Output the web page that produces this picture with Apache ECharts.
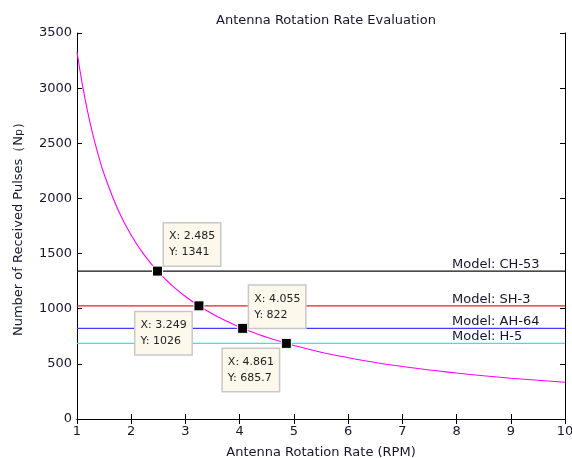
<!DOCTYPE html>
<html><head><meta charset="utf-8">
<script src="https://cdn.jsdelivr.net/npm/echarts@6/dist/echarts.min.js"></script>
<style>html,body{margin:0;padding:0;background:#fff}#c{width:572px;height:458px}</style>
</head><body><div id="c"></div>
<script>
// Curve: number of received pulses vs. rotation rate
const rpm = [1, 1.1, 1.2, 1.3, 1.4, 1.5, 1.75, 2, 2.25, 2.5, 2.75, 3, 3.25, 3.5, 3.75, 4, 4.25, 4.5, 4.75, 5, 5.5, 6, 6.5, 7, 7.5, 8, 8.5, 9, 9.5, 10];
const pulses = [3330, 3030, 2778, 2564, 2381, 2222, 1905, 1667, 1481, 1333, 1212, 1111, 1026, 952, 889, 833, 784, 741, 702, 667, 606, 556, 513, 476, 444, 417, 392, 370, 351, 333];
// Helicopter model reference levels
const models = ['Model: CH-53', 'Model: SH-3', 'Model: AH-64', 'Model: H-5'];
const levels = [1341, 1026, 822, 685.7];
const levelColors = ['#111111', '#ee1c1c', '#3c3cff', '#22eeee'];
// Data tips
const tipX = [2.485, 3.249, 4.055, 4.861];
const tipY = [1341, 1026, 822, 685.7];
const tipOffsets = [[12, -42], [-58, 12], [12, -37], [-58, 11]];
const xRange = [1, 10];

const FONT = 'DejaVu Sans, Verdana, sans-serif';
const TXT = '#161630';
const chart = echarts.init(document.getElementById('c'), null, {renderer: 'canvas'});

const series = [];
series.push({
  type: 'line', name: 'curve', data: rpm.map((x, i) => [x, pulses[i]]),
  smooth: true, symbol: 'none', lineStyle: {color: '#ff00ff', width: 1.1}, z: 3, silent: true
});
models.forEach((m, i) => {
  series.push({
    type: 'line', name: m, data: [[xRange[0], levels[i]], {value: [xRange[1], levels[i]], label: {
      show: true, formatter: m, position: [-113, 0], align: 'left', verticalAlign: 'bottom',
      color: TXT, fontSize: 13, fontFamily: FONT
    }}],
    symbol: 'circle', symbolSize: 0.01, showSymbol: true,
    lineStyle: {color: levelColors[i], width: 1.3}, itemStyle: {color: levelColors[i]}, z: 2, silent: true
  });
});
series.push({
  type: 'scatter', name: 'tips', symbol: 'rect', symbolSize: 10, z: 5, silent: true,
  itemStyle: {color: '#000', opacity: 1, borderColor: '#fff', borderWidth: 1},
  data: tipX.map((x, i) => ({
    value: [x, tipY[i]],
    label: {
      show: true, position: tipOffsets[i], align: 'left', verticalAlign: 'top',
      formatter: 'X: ' + x + '\nY: ' + tipY[i],
      backgroundColor: '#fdf8ec', borderColor: '#c8c8c8', borderWidth: 1.5,
      padding: [5, 5, 5, 5], lineHeight: 16, width: 46,
      color: '#222', fontSize: 11, fontFamily: FONT
    }
  }))
});

chart.setOption({
  backgroundColor: '#fff',
  animation: false,
  title: {text: 'Antenna Rotation Rate Evaluation', left: 321, textAlign: 'center', top: 9,
    textStyle: {fontSize: 13, fontWeight: 'normal', color: TXT, fontFamily: FONT}},
  grid: {left: 77, right: 7, top: 33, bottom: 39, containLabel: false, outerBoundsMode: 'none'},
  xAxis: [{
    type: 'value', min: 1, max: 10, interval: 1,
    name: 'Antenna Rotation Rate (RPM)', nameLocation: 'middle', nameGap: 27,
    nameTextStyle: {fontSize: 13, color: TXT, fontFamily: FONT},
    axisLine: {lineStyle: {color: '#000', width: 1}},
    axisTick: {inside: true, length: 5, lineStyle: {color: '#000'}},
    axisLabel: {fontSize: 13, color: TXT, fontFamily: FONT, margin: 6, formatter: v => String(v)},
    splitLine: {show: false}
  }, {
    type: 'value', position: 'top', min: 1, max: 10, interval: 1,
    axisLine: {show: true, lineStyle: {color: '#000', width: 1}},
    axisTick: {inside: true, length: 5, lineStyle: {color: '#000'}},
    axisLabel: {show: false}, splitLine: {show: false}
  }],
  yAxis: [{
    type: 'value', min: 0, max: 3500, interval: 500,
    name: '{a|Number of Received Pulses（N}{s|p}{a|）}', nameLocation: 'middle', nameGap: 52, nameRotate: 90,
    nameTextStyle: {rich: {
      a: {fontSize: 13, color: TXT, fontFamily: FONT},
      s: {fontSize: 11, color: TXT, fontFamily: FONT, verticalAlign: 'bottom'}
    }},
    axisLine: {lineStyle: {color: '#000', width: 1}},
    axisTick: {inside: true, length: 5, lineStyle: {color: '#000'}},
    axisLabel: {fontSize: 13, color: TXT, fontFamily: FONT, margin: 5, formatter: v => String(v)},
    splitLine: {show: false}
  }, {
    type: 'value', position: 'right', min: 0, max: 3500, interval: 500,
    axisLine: {show: true, lineStyle: {color: '#000', width: 1}},
    axisTick: {inside: true, length: 5, lineStyle: {color: '#000'}},
    axisLabel: {show: false}, splitLine: {show: false}
  }],
  series: series
});
</script></body></html>
